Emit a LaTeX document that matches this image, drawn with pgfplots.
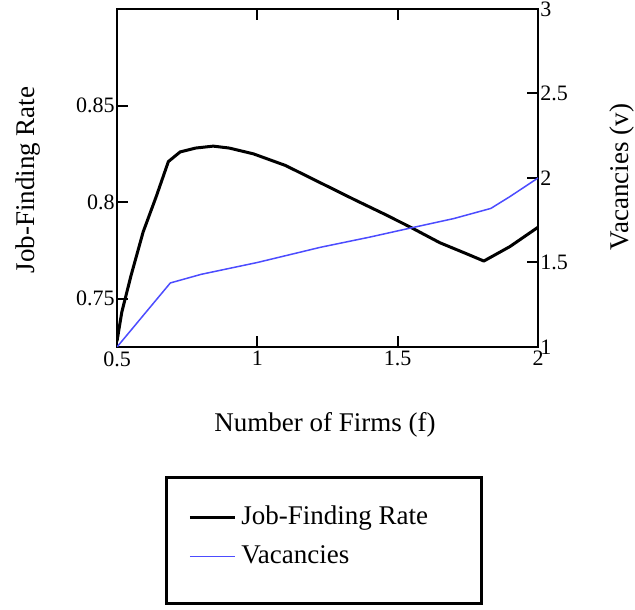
\documentclass[border=0pt]{standalone}
\usepackage{pgfplots}
\pgfplotsset{compat=1.18}
\usepackage{fontspec}
\setmainfont{Liberation Serif}
\definecolor{vblue}{rgb}{0.3,0.3,1}
\begin{document}
\begin{tikzpicture}
\path[use as bounding box] (0pt,0pt) rectangle (317.5pt,304.5pt);
\pgfplotsset{
  every axis/.append style={
    scale only axis, width=210.5pt, height=169pt,
    at={(58.5pt,131pt)}, anchor=south west,
    xmin=0.5, xmax=2,
    axis line style={line width=1pt},
    tick align=inside,
    major tick length=5.5pt,
    /pgf/number format/assume math mode=true,
    tick label style={font=\fontsize{11}{13}\selectfont},
    label style={font=\fontsize{13.5}{16}\selectfont},
  }
}
\begin{axis}[
  ymin=0.725, ymax=0.9,
  xtick={0.5,1,1.5,2},
  ytick={0.75,0.8,0.85},
  xtick pos=both,
  ytick pos=left,
  every tick/.style={line width=1pt, black},
  yticklabel style={inner sep=1pt},
  xticklabel style={inner sep=2pt},
  xlabel={Number of Firms (f)},
  ylabel={Job-Finding Rate},
  xlabel style={at={(axis description cs:0.494,-0.2308)}, anchor=center},
  ylabel style={at={(axis description cs:-0.2114,0.494)}, anchor=center},
  legend style={draw=none, fill=none, at={(0.1686,-0.5607)}, anchor=west,
    font=\fontsize{13.5}{16}\selectfont, row sep=4pt, inner sep=0pt,
    nodes={inner sep=2.5pt}},
  legend cell align=left,
  legend image code/.code={\draw[#1] (0pt,0pt) -- (22.5pt,0pt);},
]
\addplot[black, line width=1.5pt, line join=round] coordinates {
(0.5,0.728)(0.517,0.743)(0.55,0.762)(0.593,0.7845)(0.64,0.803)(0.683,0.821)
(0.725,0.826)(0.78,0.828)(0.843,0.829)(0.9,0.828)(0.986,0.825)(1.1,0.819)
(1.225,0.810)(1.35,0.801)(1.45,0.794)(1.546,0.787)(1.65,0.779)(1.75,0.773)
(1.807,0.7695)(1.9,0.777)(2.0,0.787)};
\addlegendentry{Job-Finding Rate}
\addlegendimage{vblue, line width=0.75pt}
\addlegendentry{Vacancies}
\end{axis}
\begin{axis}[
  ymin=1, ymax=3,
  axis x line=none,
  axis y line*=right,
  ytick={1,1.5,2,2.5,3},
  every tick/.style={line width=1pt, black},
  yticklabel style={inner sep=1pt},
  ylabel={Vacancies (v)},
  ylabel style={at={(axis description cs:1.1995,0.503)}, anchor=center, rotate=0},
]
\addplot[vblue, line width=0.75pt] coordinates {
(0.5,1.0)(0.69,1.379)(0.8,1.43)(1.0,1.50)(1.225,1.59)(1.4,1.65)(1.546,1.704)
(1.7,1.76)(1.832,1.82)(1.9,1.89)(2.0,2.0)};
\end{axis}
\draw[line width=1.5pt] (83.25pt,2.75pt) rectangle (240.75pt,65.75pt);
\end{tikzpicture}
\end{document}
